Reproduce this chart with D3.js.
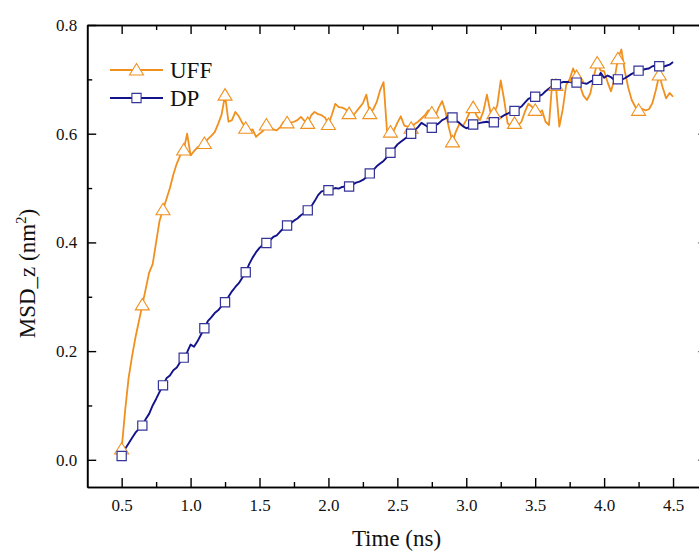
<!DOCTYPE html>
<html>
<head>
<meta charset="utf-8">
<script src="https://cdn.jsdelivr.net/npm/d3@7"></script>
<style>
  html, body { margin: 0; padding: 0; background: #fff; }
  svg { display: block; }
  svg text { font-family: 'Liberation Serif', 'Times New Roman', serif; }
</style>
</head>
<body>
<svg id="chart" width="699" height="551"></svg>
<script>
// ---------------- DATA ----------------
const timeStart = 0.5;      // ns
const timeStep = 0.025;     // ns between samples
const markerEvery = 6;      // marker every 0.15 ns

const seriesNames = ["UFF", "DP"];

const uffValues = [
  0.020, 0.090, 0.150, 0.190, 0.225, 0.255, 0.285, 0.315, 0.345, 0.360,
  0.400, 0.440, 0.460, 0.480, 0.500, 0.525, 0.545, 0.560, 0.570, 0.600,
  0.560, 0.568, 0.575, 0.578, 0.582, 0.590, 0.596, 0.603, 0.618, 0.635,
  0.671, 0.622, 0.625, 0.640, 0.632, 0.620, 0.610, 0.605, 0.608, 0.594,
  0.600, 0.605, 0.616, 0.612, 0.608, 0.606, 0.612, 0.622, 0.620, 0.620,
  0.622, 0.625, 0.631, 0.624, 0.619, 0.634, 0.640, 0.636, 0.634, 0.630,
  0.617, 0.635, 0.655, 0.649, 0.648, 0.645, 0.637, 0.632, 0.640, 0.648,
  0.656, 0.672, 0.637, 0.645, 0.658, 0.680, 0.695, 0.605, 0.603, 0.606,
  0.620, 0.632, 0.615, 0.613, 0.610, 0.618, 0.622, 0.628, 0.634, 0.643,
  0.638, 0.632, 0.648, 0.660, 0.640, 0.610, 0.585, 0.604, 0.618, 0.614,
  0.625, 0.640, 0.648, 0.633, 0.625, 0.642, 0.672, 0.640, 0.637, 0.652,
  0.698, 0.662, 0.619, 0.614, 0.619, 0.615, 0.622, 0.640, 0.655, 0.650,
  0.643, 0.637, 0.643, 0.622, 0.616, 0.700, 0.689, 0.613, 0.645, 0.690,
  0.700, 0.720, 0.705, 0.688, 0.670, 0.662, 0.674, 0.705, 0.730, 0.716,
  0.715, 0.695, 0.678, 0.700, 0.738, 0.755, 0.715, 0.685, 0.662, 0.650,
  0.643, 0.646, 0.643, 0.645, 0.656, 0.680, 0.708, 0.685, 0.665, 0.675,
  0.668
];

const dpValues = [
  0.007, 0.020, 0.030, 0.040, 0.050, 0.057, 0.063, 0.075, 0.085, 0.100,
  0.112, 0.125, 0.137, 0.150, 0.155, 0.165, 0.170, 0.180, 0.188, 0.198,
  0.212, 0.208, 0.218, 0.230, 0.242, 0.255, 0.262, 0.270, 0.275, 0.283,
  0.290, 0.300, 0.310, 0.318, 0.325, 0.335, 0.345, 0.360, 0.372, 0.382,
  0.390, 0.396, 0.399, 0.404, 0.410, 0.413, 0.420, 0.426, 0.431, 0.435,
  0.440, 0.444, 0.450, 0.454, 0.459, 0.466, 0.476, 0.487, 0.494, 0.495,
  0.496, 0.498, 0.500, 0.499, 0.502, 0.503, 0.503, 0.506, 0.510, 0.512,
  0.515, 0.520, 0.527, 0.533, 0.540, 0.545, 0.550, 0.557, 0.565, 0.572,
  0.580, 0.585, 0.590, 0.595, 0.600, 0.606, 0.612, 0.620, 0.616, 0.612,
  0.611, 0.615, 0.619, 0.625, 0.628, 0.634, 0.630, 0.624, 0.620, 0.614,
  0.610, 0.612, 0.617, 0.618, 0.620, 0.621, 0.622, 0.620, 0.621, 0.626,
  0.630, 0.634, 0.637, 0.640, 0.642, 0.646, 0.650, 0.657, 0.664, 0.667,
  0.668, 0.669, 0.672, 0.678, 0.683, 0.688, 0.691, 0.693, 0.695, 0.695,
  0.695, 0.694, 0.694, 0.695, 0.693, 0.692, 0.696, 0.699, 0.699, 0.712,
  0.703, 0.707, 0.704, 0.699, 0.700, 0.699, 0.702, 0.706, 0.710, 0.713,
  0.716, 0.717, 0.719, 0.720, 0.724, 0.726, 0.724, 0.723, 0.725, 0.727,
  0.732
];

const xTicksMajor = [0.5, 1.0, 1.5, 2.0, 2.5, 3.0, 3.5, 4.0, 4.5];
const xTicksMinor = [0.75, 1.25, 1.75, 2.25, 2.75, 3.25, 3.75, 4.25];
const yTicksMajor = [0.0, 0.2, 0.4, 0.6, 0.8];
const yTicksMinor = [0.1, 0.3, 0.5, 0.7];

const xLabel = "Time (ns)";

// ---------------- DRAW ----------------
const svg = d3.select("#chart");
svg.append("rect").attr("width", 699).attr("height", 551).attr("fill", "#fff");

const x = d3.scaleLinear().domain([0.25, 4.75]).range([87.2, 707.5]);
const y = d3.scaleLinear().domain([-0.05, 0.8]).range([487, 25]);

const serif = "'Liberation Serif', 'Times New Roman', serif";
const orange = "#F0901E";
const navy = "#12128A";

const toPoints = vals => vals.map((v, i) => ({ t: timeStart + i * timeStep, v, i }));
const uff = toPoints(uffValues);
const dp = toPoints(dpValues);

const line = d3.line().x(d => x(d.t)).y(d => y(d.v));

// axes
function styleAxis(g) {
  g.attr("font-family", serif).attr("font-size", 17);
  g.select(".domain").attr("stroke", "#000").attr("stroke-width", 1.6);
  g.selectAll(".tick line").attr("stroke", "#000").attr("stroke-width", 1.4);
  g.selectAll(".tick text")
    .style("font-family", serif).style("font-size", "17px").attr("fill", "#111");
}

const yBottom = y.range()[0], yTop = y.range()[1];
const xLeft = x.range()[0], xRight = x.range()[1];

svg.append("g").attr("transform", `translate(0,${yBottom})`)
  .call(d3.axisBottom(x).tickValues(xTicksMajor).tickFormat(d3.format(".1f"))
    .tickSizeInner(-9).tickSizeOuter(0).tickPadding(12))
  .call(styleAxis);
svg.append("g").attr("transform", `translate(0,${yBottom})`)
  .call(d3.axisBottom(x).tickValues(xTicksMinor).tickFormat("").tickSizeInner(-5).tickSizeOuter(0))
  .call(styleAxis);
svg.append("g").attr("transform", `translate(0,${yTop})`)
  .call(d3.axisTop(x).tickValues(xTicksMajor).tickFormat("").tickSizeInner(-9).tickSizeOuter(0))
  .call(styleAxis);
svg.append("g").attr("transform", `translate(0,${yTop})`)
  .call(d3.axisTop(x).tickValues(xTicksMinor).tickFormat("").tickSizeInner(-5).tickSizeOuter(0))
  .call(styleAxis);

svg.append("g").attr("transform", `translate(${xLeft},0)`)
  .call(d3.axisLeft(y).tickValues(yTicksMajor).tickFormat(d3.format(".1f"))
    .tickSizeInner(-9).tickSizeOuter(0).tickPadding(10))
  .call(styleAxis);
svg.append("g").attr("transform", `translate(${xLeft},0)`)
  .call(d3.axisLeft(y).tickValues(yTicksMinor).tickFormat("").tickSizeInner(-5).tickSizeOuter(0))
  .call(styleAxis);
svg.append("g").attr("transform", `translate(${xRight},0)`)
  .call(d3.axisRight(y).tickValues(yTicksMajor).tickFormat("").tickSizeInner(-9).tickSizeOuter(0))
  .call(styleAxis);
svg.append("g").attr("transform", `translate(${xRight},0)`)
  .call(d3.axisRight(y).tickValues(yTicksMinor).tickFormat("").tickSizeInner(-5).tickSizeOuter(0))
  .call(styleAxis);

// markers
const triPath = "M0,-6.5L7,5L-7,5Z";
const sqPath = "M-4.6,-4.6H4.6V4.6H-4.6Z";

// UFF
svg.append("path").datum(uff).attr("d", line)
  .attr("fill", "none").attr("stroke", orange).attr("stroke-width", 1.8)
  .attr("stroke-linejoin", "round");
// DP
svg.append("path").datum(dp).attr("d", line)
  .attr("fill", "none").attr("stroke", navy).attr("stroke-width", 1.9)
  .attr("stroke-linejoin", "round");

svg.append("g").selectAll("path")
  .data(uff.filter(d => d.i % markerEvery === 0 && d.i <= 156))
  .join("path")
  .attr("transform", d => `translate(${x(d.t)},${y(d.v)})`)
  .attr("d", triPath).attr("fill", "#fff").attr("stroke", orange).attr("stroke-width", 1.1);

svg.append("g").selectAll("path")
  .data(dp.filter(d => d.i % markerEvery === 0 && d.i <= 156))
  .join("path")
  .attr("transform", d => `translate(${x(d.t)},${y(d.v)})`)
  .attr("d", sqPath).attr("fill", "#fff").attr("stroke", "#333399").attr("stroke-width", 1.2);

// legend
const legend = [
  { name: seriesNames[0], color: orange, marker: triPath, mstroke: orange, ly: 70 },
  { name: seriesNames[1], color: navy, marker: sqPath, mstroke: "#333399", ly: 98 }
];
const lg = svg.append("g");
legend.forEach(l => {
  lg.append("line").attr("x1", 110).attr("x2", 163).attr("y1", l.ly).attr("y2", l.ly)
    .attr("stroke", l.color).attr("stroke-width", 1.8);
  lg.append("path").attr("transform", `translate(136.5,${l.ly})`).attr("d", l.marker)
    .attr("fill", "#fff").attr("stroke", l.mstroke).attr("stroke-width", 1.1);
  lg.append("text").attr("x", 170).attr("y", l.ly + 8).text(l.name)
    .attr("font-family", serif).attr("font-size", 23).attr("fill", "#111");
});

// axis titles
svg.append("text").attr("x", 396.5).attr("y", 546).attr("text-anchor", "middle")
  .attr("font-family", serif).attr("font-size", 23).attr("fill", "#111").text(xLabel);

const yt = svg.append("text").attr("transform", "translate(35,273.5) rotate(-90)")
  .attr("text-anchor", "middle").attr("font-family", serif).attr("font-size", 23).attr("fill", "#111");
yt.append("tspan").text("MSD_z (nm");
yt.append("tspan").attr("font-size", 15).attr("dy", -9).text("2");
yt.append("tspan").attr("dy", 9).text(")");
</script>
</body>
</html>
